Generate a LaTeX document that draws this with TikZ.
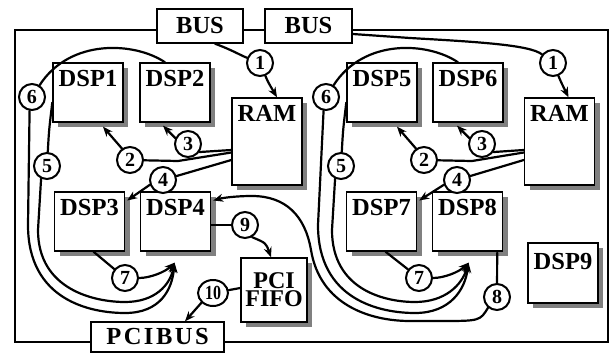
\documentclass[tikz,border=0pt]{standalone}
\usetikzlibrary{arrows.meta,shapes.geometric,calc}
\font\lblfont="Liberation Serif/B" at 24.5pt
\font\fifofont="Liberation Serif/B" at 24pt
\font\numfont="Liberation Serif/B" at 20pt
\begin{document}
\begin{tikzpicture}[x=1pt,y=-1pt,
 lbl/.style={font=\lblfont},
 boxbase/.style={draw, fill=white, line width=1.4pt, inner sep=0pt, lbl},
 dspbox/.style={boxbase, minimum width=70pt, minimum height=59pt},
 rambox/.style={boxbase, minimum width=70pt, minimum height=87pt},
 toplbl/.style={label={[lbl, anchor=north, inner sep=0pt, yshift=-8pt]north:#1}},
 num/.style={circle, draw, fill=white, line width=2pt, minimum size=26pt, inner sep=0pt, font=\numfont},
 conn/.style={line width=2.2pt, line cap=round, line join=round},
 arr/.style={conn, -{Stealth[length=10pt,width=8pt]}},
 shade/.style={fill=black!50, draw=none},
]
\useasboundingbox (0,0) rectangle (611,354);
\draw[line width=2.8pt] (15,30) rectangle (608,342);

% drop shadows
\fill[shade] (58,68) rectangle (128,127);
\fill[shade] (145,68) rectangle (215,127);
\fill[shade] (237,103) rectangle (307,190);
\fill[shade] (59.5,197) rectangle (129.5,256);
\fill[shade] (145.5,197) rectangle (215.5,256);
\fill[shade] (246,263) rectangle (312,327);
\fill[shade] (352,68) rectangle (422,127);
\fill[shade] (438,68) rectangle (508,127);
\fill[shade] (529.5,103) rectangle (599.5,190);
\fill[shade] (351.5,197) rectangle (421.5,256);
\fill[shade] (437.5,197) rectangle (507.5,256);
\fill[shade] (533,248) rectangle (603,308);

% boxes
\node[boxbase, minimum width=86pt, minimum height=34pt] (bus1) at (200,26) {BUS};
\node[boxbase, minimum width=87pt, minimum height=34pt] (bus2) at (308.5,26) {BUS};
\node[dspbox, toplbl=DSP1] (dsp1) at (88,92.5) {};
\node[dspbox, toplbl=DSP2] (dsp2) at (175,92.5) {};
\node[rambox, toplbl=RAM] (ram1) at (267,141.5) {};
\node[dspbox, toplbl=DSP3] (dsp3) at (89.5,221.5) {};
\node[dspbox, toplbl=DSP4] (dsp4) at (175.5,221.5) {};
\node[boxbase, minimum width=66pt, minimum height=64pt, align=center, font=\fifofont] (fifo) at (274,290) {PCI\\[1pt]FIFO};
\node[boxbase, minimum width=133pt, minimum height=30pt] (pcibus) at (157.5,337) {P\kern2.5pt C\kern2.5pt I\kern2.5pt B\kern2.5pt U\kern2.5pt S};
\node[dspbox, toplbl=DSP5] (dsp5) at (382,92.5) {};
\node[dspbox, toplbl=DSP6] (dsp6) at (468,92.5) {};
\node[rambox, toplbl=RAM] (ram2) at (559.5,141.5) {};
\node[dspbox, toplbl=DSP7] (dsp7) at (381.5,221.5) {};
\node[dspbox, toplbl=DSP8] (dsp8) at (467.5,221.5) {};
\node[dspbox, minimum height=60pt, label={[lbl, anchor=north, inner sep=0pt, yshift=-11pt]north:DSP9}] (dsp9) at (563,273) {};

% numbered circles
\node[num] (l1) at (260,63) {1};
\node[num] (l2) at (130,160) {2};
\node[num] (l3) at (188,144) {3};
\node[num] (l4) at (163,180) {4};
\node[num] (l5) at (47,166) {5};
\node[num] (l6) at (32,97) {6};
\node[num] (l7) at (125,278) {7};
\node[num] (c9) at (245,225) {9};
\node[num, ellipse, minimum width=30pt, minimum height=26pt] (c10) at (213,293) {\scalebox{0.8}[1]{10}};
\node[num] (c8) at (497,297) {8};
\node[num] (r1) at (553,63) {1};
\node[num] (r2) at (424,160) {2};
\node[num] (r3) at (482,144) {3};
\node[num] (r4) at (457,180) {4};
\node[num] (r5) at (341,166) {5};
\node[num] (r6) at (326,97) {6};
\node[num] (r7) at (419,278) {7};

\coordinate (t4) at ($(dsp4.south)+(-1,11)$);
\coordinate (t8) at ($(dsp8.south)+(1,11)$);

% left group connectors
\draw[conn] ($(bus1.south)+(15,0)$) .. controls (232,50) and (240,55) .. (l1);
\draw[arr] (l1) .. controls (268,82) .. ($(ram1.north)+(10,0)$);
\draw[conn] ($(ram1.west)+(0,8.5)$) -- (l3.-35);
\draw[arr] (l3.155) -- ($(dsp2.south)+(-12,3)$);
\draw[conn] ($(ram1.west)+(0,11)$) -- (178,161) -- (l2);
\draw[arr] (l2.125) -- ($(dsp1.south)+(15,4)$);
\draw[conn] ($(ram1.west)+(0,18.5)$) -- (l4);
\draw[arr] (l4.200) -- ($(dsp3.east)+(2,-21)$);
\draw[conn] ($(dsp1.west)+(0,10)$) .. controls (49,130) .. (l5);
\draw[arr] (l5.-115) -- (38,230) .. controls (38,290) and (95,302) .. (125,302) .. controls (155,302) and (170,285) .. (t4);
\draw[conn] ($(dsp2.north)+(-10,0)$) .. controls (135,42) and (70,38) .. (l6);
\draw[arr] (l6.-100) -- (28,225) .. controls (28,300) and (90,313) .. (125,313) .. controls (160,313) and (172,290) .. (t4);
\draw[conn] ($(dsp3.south)+(4,0)$) -- (l7);
\draw[arr] (l7.east) .. controls (150,278) and (165,272) .. (t4);
\draw[conn] ($(dsp4.east)+(0,3.5)$) -- (c9);
\draw[arr] (c9.-60) .. controls (266,243) .. ($(fifo.north)+(-3,0)$);
\draw[conn] ($(fifo.west)+(0,-2)$) -- (c10);
\draw[arr] (c10.-140) -- ($(pcibus.north)+(27.5,0)$);
\draw[conn] ($(dsp8.south east)+(-6,1)$) -- (c8);
\draw[arr] (c8.-130) .. controls (480,321) .. (440,321) -- (410,321) .. controls (370,321) and (320,305) .. (311,250) .. controls (305,215) and (285,196) .. (252,196) .. controls (235,196) and (222,198) .. ($(dsp4.east)+(2,-21)$);

% right group connectors
\draw[conn] ($(bus2.east)+(0,8)$) -- (410,38) .. controls (480,42) and (530,45) .. (r1);
\draw[arr] (r1) .. controls (561,82) .. ($(ram2.north)+(9,0)$);
\draw[conn] ($(ram2.west)+(0,8.5)$) -- (r3.-35);
\draw[arr] (r3.155) -- ($(dsp6.south)+(-11,3)$);
\draw[conn] ($(ram2.west)+(0,11)$) -- (472,161) -- (r2);
\draw[arr] (r2.125) -- ($(dsp5.south)+(15,4)$);
\draw[conn] ($(ram2.west)+(0,18.5)$) -- (r4);
\draw[arr] (r4.200) -- ($(dsp7.east)+(2,-21)$);
\draw[conn] ($(dsp5.west)+(0,10)$) .. controls (343,130) .. (r5);
\draw[arr] (r5.-115) -- (332,230) .. controls (332,290) and (385,302) .. (415,302) .. controls (445,302) and (462,285) .. (t8);
\draw[conn] ($(dsp6.north)+(-10,0)$) .. controls (428,42) and (364,38) .. (r6);
\draw[arr] (r6.-100) -- (318,225) .. controls (318,300) and (380,313) .. (415,313) .. controls (450,313) and (465,290) .. (t8);
\draw[conn] ($(dsp7.south)+(4,0)$) -- (r7);
\draw[arr] (r7.east) .. controls (444,278) and (459,272) .. (t8);
\end{tikzpicture}
\end{document}
